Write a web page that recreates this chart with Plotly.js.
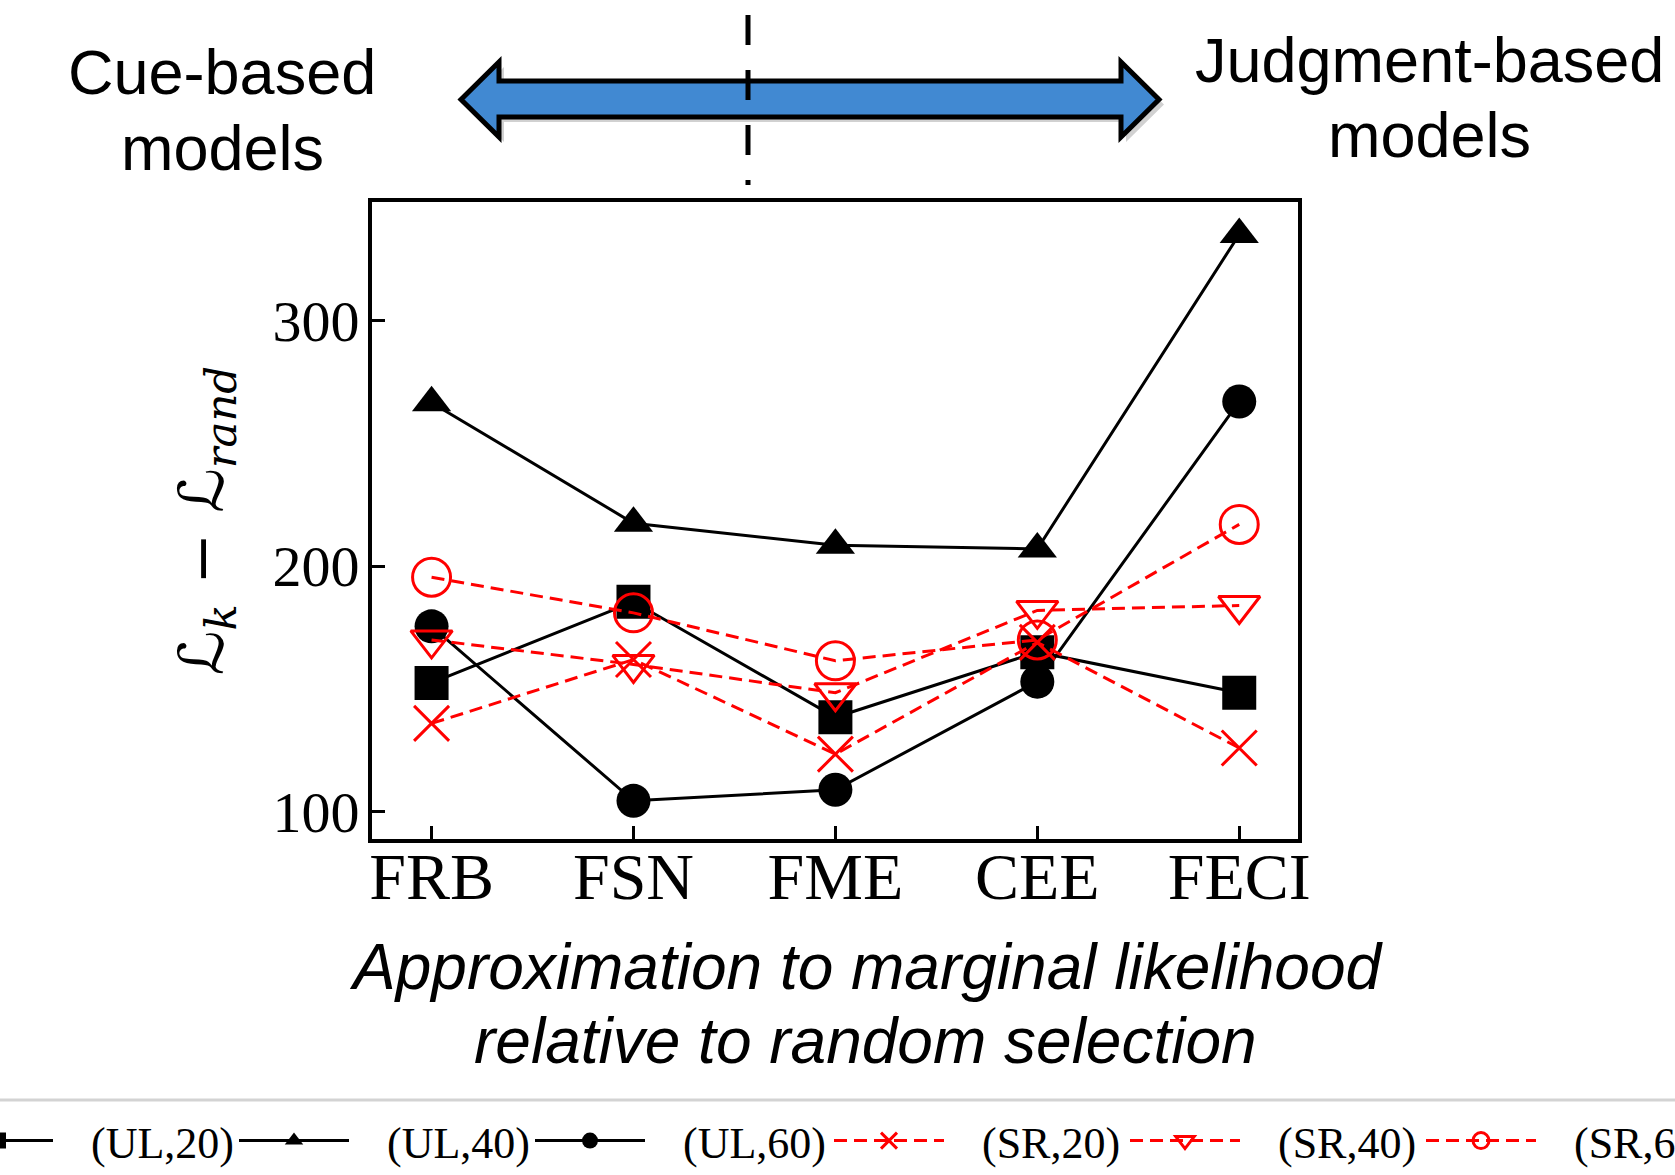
<!DOCTYPE html>
<html>
<head>
<meta charset="utf-8">
<script src="https://cdn.plot.ly/plotly-3.0.1.min.js"></script>
<style>
html, body { margin: 0; padding: 0; background: #ffffff; }
#chart { width: 1675px; height: 1175px; }
</style>
</head>
<body>
<div id="chart"></div>
<script>
// ---- data ----
const categories = ['FRB', 'FSN', 'FME', 'CEE', 'FECI'];
const seriesNames = ['(UL,20)', '(UL,40)', '(UL,60)', '(SR,20)', '(SR,40)', '(SR,60)'];
const ul20 = [152.5, 185.5, 138.5, 165, 148.5];
const ul40 = [266.5, 217.5, 208.5, 207, 335];
const ul60 = [175.5, 104.5, 109, 153, 267];
const sr20 = [136, 162, 123.5, 169, 126];
const sr40 = [170, 160, 148.5, 182, 184];
const sr60 = [195.5, 181, 161.5, 170, 217];
const yTicks = [100, 200, 300];
const yTitle = 'ℒ<sub><i>k</i></sub> − ℒ<sub><i>rand</i></sub>';
const xTitleLines = ['Approximation to marginal likelihood', 'relative to random selection'];
const leftLabel = ['Cue-based', 'models'];
const rightLabel = ['Judgment-based', 'models'];

// ---- geometry helpers (pixel -> paper) ----
const W = 1675, H = 1175;
const M = { l: 372, r: 377, t: 202, b: 336 };
const PW = W - M.l - M.r, PH = H - M.t - M.b;
const px = v => (v - M.l) / PW;
const py = v => (H - M.b - v) / PH;

const pad = '\u00a0\u00a0\u00a0';
const black = '#000000', red = '#ff0000';
const dashRed = '13px,7px';

const traces = [
  { y: ul20, name: seriesNames[0], legend: 'legend',
    line: { color: black, width: 3 },
    marker: { symbol: 'square', size: 34, color: black } },
  { y: ul40, name: seriesNames[1], legend: 'legend',
    line: { color: black, width: 3 },
    marker: { symbol: 'triangle-up', size: 34, color: black } },
  { y: ul60, name: seriesNames[2], legend: 'legend',
    line: { color: black, width: 3 },
    marker: { symbol: 'circle', size: 34, color: black } },
  { y: sr20, name: seriesNames[3], legend: 'legend2',
    line: { color: red, width: 3, dash: dashRed },
    marker: { symbol: 'x-thin-open', size: 35, color: red, line: { color: red, width: 3 } } },
  { y: sr40, name: seriesNames[4], legend: 'legend2',
    line: { color: red, width: 3, dash: dashRed },
    marker: { symbol: 'triangle-down-open', size: 36, color: red, line: { color: red, width: 3 } } },
  { y: sr60, name: seriesNames[5], legend: 'legend2',
    line: { color: red, width: 3, dash: dashRed },
    marker: { symbol: 'circle-open', size: 38, color: red, line: { color: red, width: 3 } } }
].map(t => Object.assign({ type: 'scatter', mode: 'lines+markers', x: categories, cliponaxis: false }, t, { name: pad + t.name }));

// double arrow outline (pixel points)
const arrowPts = [[461, 99.5], [499, 62], [499, 81], [1121, 81], [1121, 62], [1159, 99.5],
                  [1121, 137], [1121, 117], [499, 117], [499, 137]];
const pathOf = (pts, dx, dy) => 'M' + pts.map(p => px(p[0] + dx) + ',' + py(p[1] + dy)).join(' L') + ' Z';

const textFont = { family: 'Liberation Sans, Arial, sans-serif', size: 63, color: black };
const italicFont = { family: 'Liberation Sans, Arial, sans-serif', size: 64, color: black, style: 'italic' };
const ann = (text, x, y, font) => ({ text, x: px(x), y: py(y), xref: 'paper', yref: 'paper',
  xanchor: 'center', yanchor: 'middle', showarrow: false, font });

const legendCommon = {
  orientation: 'h', xanchor: 'left', yanchor: 'middle', y: py(1141),
  font: { family: 'Liberation Serif, Times New Roman, serif', size: 44, color: black },
  itemwidth: 110, entrywidth: 171, entrywidthmode: 'pixels',
  bgcolor: 'rgba(0,0,0,0)', borderwidth: 0, traceorder: 'normal'
};

const layout = {
  width: W, height: H,
  margin: Object.assign({ autoexpand: false }, M),
  paper_bgcolor: '#ffffff', plot_bgcolor: '#ffffff',
  showlegend: true,
  legend: Object.assign({ x: px(-62) }, legendCommon),
  legend2: Object.assign({ x: px(829) }, legendCommon),
  xaxis: {
    type: 'category', range: [-0.295, 4.291],
    showline: true, linecolor: black, linewidth: 4, mirror: true,
    ticks: 'inside', ticklen: 13, tickwidth: 2.5, tickcolor: black,
    ticklabelstandoff: -23,
    tickfont: { family: 'Liberation Serif, Times New Roman, serif', size: 66, color: black },
    showgrid: false, zeroline: false
  },
  yaxis: {
    range: [88.97, 348.2], tickvals: yTicks, ticktext: yTicks.map(String),
    showline: true, linecolor: black, linewidth: 4, mirror: true,
    ticks: 'inside', ticklen: 13, tickwidth: 2.5, tickcolor: black,
    ticklabelstandoff: -3,
    tickfont: { family: 'Liberation Serif, Times New Roman, serif', size: 58, color: black },
    showgrid: false, zeroline: false,
    title: { text: yTitle, standoff: 30,
      font: { family: 'DejaVu Serif, DejaVu Sans, serif', size: 62, color: black } }
  },
  shapes: [
    { type: 'path', xref: 'paper', yref: 'paper', path: pathOf(arrowPts, 5, 5), layer: 'below',
      fillcolor: 'rgba(0,0,0,0.18)', line: { width: 0 } },
    { type: 'path', xref: 'paper', yref: 'paper', path: pathOf(arrowPts, 0, 0), layer: 'above',
      fillcolor: '#4189d2', line: { color: black, width: 5 } },
    { type: 'line', xref: 'paper', yref: 'paper', x0: px(748), x1: px(748), y0: py(15), y1: py(185),
      layer: 'above', line: { color: black, width: 5, dash: '30px,25px' } },
    { type: 'line', xref: 'paper', yref: 'paper', x0: px(0), x1: px(1675), y0: py(1100), y1: py(1100),
      layer: 'above', line: { color: '#d3d3d3', width: 3 } }
  ],
  annotations: [
    ann(leftLabel[0], 222, 72, textFont),
    ann(leftLabel[1], 222, 148, textFont),
    ann(rightLabel[0], 1429, 60, textFont),
    ann(rightLabel[1], 1429, 135, textFont),
    ann(xTitleLines[0], 866, 967, italicFont),
    ann(xTitleLines[1], 865, 1041, italicFont)
  ]
};

Plotly.newPlot('chart', traces, layout, { displayModeBar: false, responsive: false });
</script>
</body>
</html>
